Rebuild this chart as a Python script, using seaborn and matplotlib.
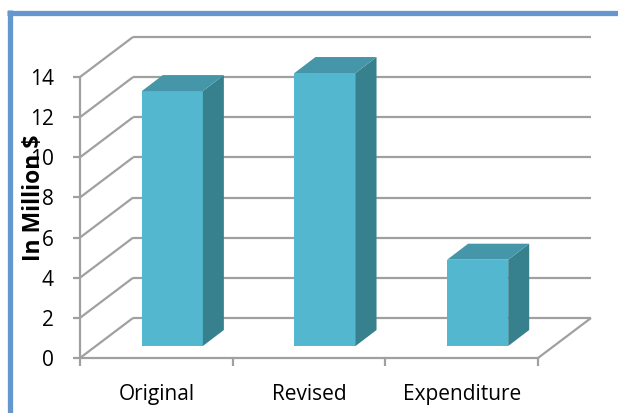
import matplotlib
matplotlib.use("Agg")
import matplotlib.pyplot as plt
import seaborn as sns
from matplotlib.transforms import IdentityTransform, ScaledTranslation
from matplotlib.patches import Polygon
from matplotlib.lines import Line2D

# ---- data ----
categories = ["Original", "Revised", "Expenditure"]
values = [12.7, 13.6, 4.3]
y_ticks = [0, 2, 4, 6, 8, 10, 12, 14]
y_label = "In Million $"

# ---- style ----
FRONT = "#53B8CF"
SIDE = "#37818F"
TOP = "#4596A8"
GRID = "#A0A0A0"
BORDER = "#6397CE"

sns.set_theme(style="white")
plt.rcParams['font.family'] = ['Open Sans', 'DejaVu Sans']

W, H, DPI = 618, 413, 100
fig = plt.figure(figsize=(W / DPI, H / DPI), dpi=DPI)
fig.patch.set_facecolor("white")

L, R, B, T = 80, 538, 358, 77  # front plane of axes in pixels (top-left origin)
ax = fig.add_axes([L / W, (H - B) / H, (R - L) / W, (B - T) / H])
ax.set_facecolor("none")

sns.barplot(x=categories, y=values, width=0.4, color=FRONT, saturation=1,
            linewidth=0, ax=ax, zorder=3)
ax.set_xlim(-0.5, len(categories) - 0.5)
ax.set_ylim(0, 14)

# depth offsets in pixels (display, y up)
WALL = (53, 40)
BF = (16, 12)      # bar front face offset
BB = (37, 28)      # bar back face offset

fig.canvas.draw()
td = ax.transData
ident = IdentityTransform()


def P(x, y, off=(0, 0)):
    px, py = td.transform((x, y))
    return (px + off[0], py + off[1])


def line(p0, p1, z=1, **kw):
    ln = Line2D([p0[0], p1[0]], [p0[1], p1[1]], transform=ident, color=GRID,
                lw=1.6, zorder=z, clip_on=False, solid_capstyle="butt", **kw)
    ax.add_line(ln)


x0, x1 = ax.get_xlim()
# back wall gridlines and left wall diagonals
for t in y_ticks:
    line(P(x0, t, WALL), P(x1, t, WALL))
    line(P(x0, t), P(x0, t, WALL))
# floor
line(P(x0, 0), P(x1, 0), z=1.5)
line(P(x1, 0), P(x1, 0, WALL))
# front left axis line
line(P(x0, 0), P(x0, 14), z=1.5)
# y ticks
for t in y_ticks:
    a = P(x0, t)
    line((a[0] - 7, a[1]), a, z=1.5)
# x ticks at category boundaries
for k in range(len(categories) + 1):
    a = P(x0 + k, 0)
    line(a, (a[0], a[1] - 8), z=1.5)

# bars: shift front faces, add side & top faces
shift = ScaledTranslation(BF[0] / DPI, BF[1] / DPI, fig.dpi_scale_trans)
for p in ax.patches[:len(values)]:
    x, w, h = p.get_x(), p.get_width(), p.get_height()
    p.set_transform(td + shift)
    p.set_clip_on(False)
    side = Polygon([P(x + w, 0, BF), P(x + w, h, BF), P(x + w, h, BB), P(x + w, 0, BB)],
                   closed=True, transform=ident, facecolor=SIDE, edgecolor="none",
                   zorder=3, clip_on=False)
    top = Polygon([P(x, h, BF), P(x + w, h, BF), P(x + w, h, BB), P(x, h, BB)],
                  closed=True, transform=ident, facecolor=TOP, edgecolor="none",
                  zorder=3, clip_on=False)
    ax.add_patch(side)
    ax.add_patch(top)

# axes decorations
for s in ax.spines.values():
    s.set_visible(False)
ax.set_yticks(y_ticks)
ax.set_yticklabels([str(t) for t in y_ticks])
ax.tick_params(axis="y", length=0, pad=19, labelsize=15, colors="black")
ax.tick_params(axis="x", length=0, pad=19, labelsize=15, colors="black")
ax.set_xlabel("")
ax.set_ylabel("")
ax.grid(False)

fig.text(34 / W, 1 - 198 / H, y_label, rotation=90, ha="center", va="center",
         fontsize=16.5, fontweight="bold", color="black")

# chart border (top and left visible)
fig.add_artist(Line2D([7 / W, 1.0], [1 - 12.5 / H, 1 - 12.5 / H], transform=fig.transFigure,
                      color=BORDER, lw=3.8, solid_capstyle="butt"))
fig.add_artist(Line2D([9.5 / W, 9.5 / W], [1 - 10 / H, 0.0], transform=fig.transFigure,
                      color=BORDER, lw=3.8, solid_capstyle="butt"))

fig.savefig("out.png", dpi=DPI)
